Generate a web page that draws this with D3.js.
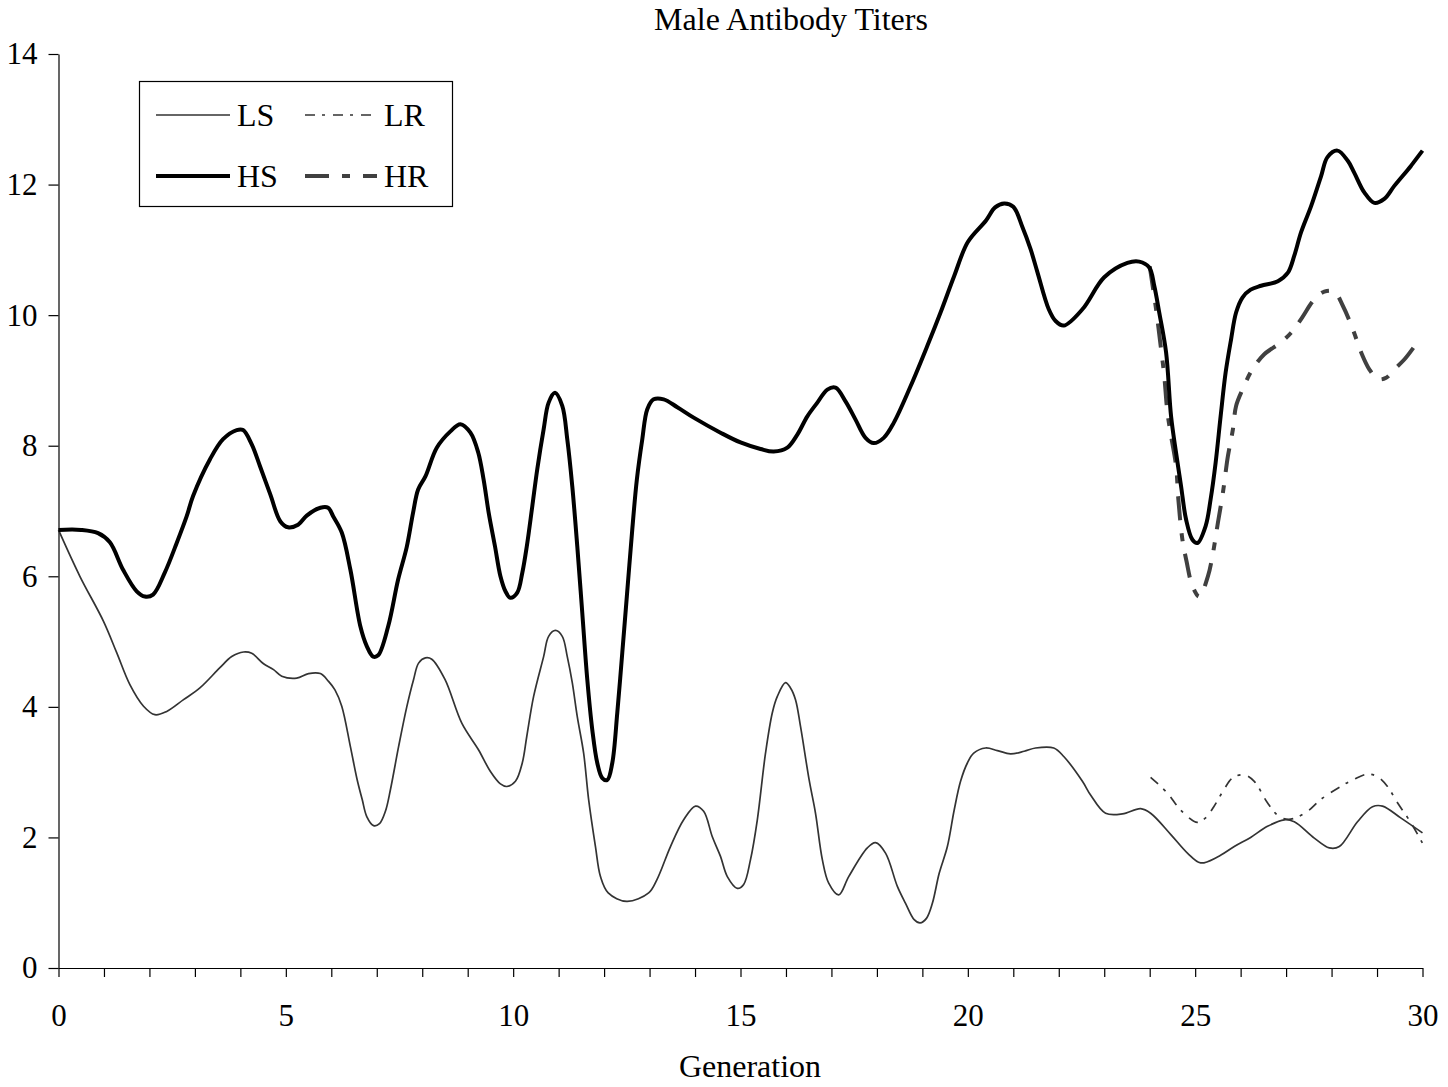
<!DOCTYPE html>
<html>
<head>
<meta charset="utf-8">
<script src="https://cdn.jsdelivr.net/npm/d3@7"></script>
<style>
  html, body { margin: 0; padding: 0; background: #fff; }
  svg { display: block; }
  text { font-family: "Liberation Serif", "Times New Roman", serif; fill: #000; }
</style>
</head>
<body>
<svg id="chart" width="1448" height="1087"></svg>
<script>
const title = "Male Antibody Titers";
const xLabel = "Generation";
const xTickValues = d3.range(0, 31, 1);
const xTickLabels = [0, 5, 10, 15, 20, 25, 30];
const yTickValues = [0, 2, 4, 6, 8, 10, 12, 14];
const seriesNames = ["LS", "LR", "HS", "HR"];

// [generation, titer]
const LS = [[0,6.71],[0.47,6.0],[0.99,5.31],[1.28,4.83],[1.57,4.34],[1.87,4.01],[2.12,3.88],[2.38,3.93],[2.75,4.11],[3.11,4.29],[3.55,4.60],[3.81,4.77],[4.07,4.84],[4.25,4.82],[4.51,4.66],[4.73,4.57],[4.91,4.47],[5.24,4.44],[5.5,4.51],[5.76,4.51],[5.94,4.39],[6.08,4.26],[6.23,4.01],[6.42,3.39],[6.57,2.88],[6.68,2.58],[6.78,2.32],[6.93,2.18],[7.06,2.21],[7.19,2.40],[7.3,2.73],[7.48,3.39],[7.66,4.0],[7.81,4.42],[7.92,4.67],[8.07,4.75],[8.21,4.73],[8.5,4.42],[8.87,3.75],[9.24,3.34],[9.5,3.01],[9.72,2.82],[9.86,2.78],[10.05,2.86],[10.2,3.14],[10.3,3.55],[10.45,4.16],[10.67,4.77],[10.78,5.08],[10.93,5.17],[11.08,5.08],[11.19,4.77],[11.3,4.37],[11.41,3.85],[11.55,3.29],[11.66,2.58],[11.81,1.86],[11.92,1.40],[12.09,1.15],[12.5,1.02],[12.98,1.15],[13.16,1.35],[13.46,1.86],[13.75,2.27],[14.01,2.48],[14.19,2.40],[14.38,2.01],[14.56,1.71],[14.71,1.40],[14.93,1.22],[15.07,1.28],[15.22,1.66],[15.37,2.27],[15.55,3.29],[15.7,3.91],[15.81,4.16],[15.99,4.37],[16.1,4.29],[16.21,4.11],[16.32,3.70],[16.51,2.88],[16.65,2.37],[16.8,1.66],[16.94,1.30],[17.16,1.12],[17.38,1.40],[17.79,1.84],[17.97,1.92],[18.19,1.76],[18.45,1.25],[18.63,0.99],[18.82,0.74],[18.95,0.69],[19.09,0.76],[19.22,0.99],[19.37,1.45],[19.55,1.86],[19.7,2.42],[19.84,2.86],[19.99,3.14],[20.13,3.29],[20.39,3.37],[20.65,3.33],[20.94,3.28],[21.24,3.32],[21.49,3.37],[21.89,3.37],[22.11,3.24],[22.52,2.86],[22.7,2.65],[23.03,2.37],[23.4,2.36],[23.8,2.44],[24.02,2.37],[24.47,2.04],[24.83,1.76],[25.12,1.61],[25.49,1.70],[25.86,1.86],[26.22,2.00],[26.59,2.17],[26.96,2.27],[27.18,2.24],[27.62,1.99],[27.95,1.84],[28.17,1.86],[28.57,2.24],[28.9,2.47],[29.12,2.48],[29.52,2.30],[30,2.07]];

const HS = [[0,6.71],[0.5,6.71],[0.87,6.66],[1.13,6.52],[1.42,6.10],[1.72,5.77],[1.9,5.69],[2.08,5.72],[2.34,6.06],[2.6,6.51],[2.82,6.92],[2.96,7.23],[3.33,7.79],[3.62,8.10],[3.92,8.24],[4.06,8.24],[4.25,8.02],[4.43,7.69],[4.66,7.25],[4.88,6.84],[5.05,6.75],[5.27,6.79],[5.46,6.93],[5.76,7.05],[5.93,7.05],[6.04,6.92],[6.23,6.67],[6.42,6.10],[6.64,5.23],[6.78,4.93],[6.92,4.77],[7.03,4.79],[7.25,5.23],[7.47,5.95],[7.66,6.45],[7.8,6.98],[7.91,7.33],[8.07,7.53],[8.32,7.97],[8.62,8.22],[8.84,8.33],[9.06,8.20],[9.23,7.90],[9.35,7.48],[9.46,6.98],[9.6,6.46],[9.72,6.0],[9.83,5.77],[9.94,5.67],[10.09,5.75],[10.2,6.05],[10.3,6.46],[10.42,7.07],[10.53,7.64],[10.67,8.25],[10.78,8.66],[10.92,8.81],[11.08,8.61],[11.19,8.10],[11.3,7.38],[11.41,6.46],[11.52,5.44],[11.63,4.42],[11.74,3.65],[11.85,3.14],[11.96,2.91],[12.07,2.88],[12.18,3.14],[12.29,3.91],[12.4,4.83],[12.5,5.69],[12.62,6.72],[12.72,7.48],[12.84,8.10],[12.95,8.56],[13.09,8.71],[13.31,8.71],[13.61,8.59],[13.97,8.43],[14.56,8.20],[15.0,8.05],[15.44,7.95],[15.73,7.91],[16.03,7.97],[16.25,8.17],[16.47,8.45],[16.69,8.66],[16.91,8.86],[17.09,8.89],[17.31,8.68],[17.53,8.40],[17.75,8.12],[17.93,8.04],[18.15,8.12],[18.37,8.35],[18.74,8.91],[19.11,9.53],[19.4,10.04],[19.7,10.60],[20.0,11.12],[20.4,11.45],[20.6,11.65],[20.8,11.71],[21.0,11.66],[21.2,11.35],[21.38,11.01],[21.53,10.66],[21.78,10.09],[21.93,9.91],[22.11,9.84],[22.52,10.09],[23.0,10.58],[23.51,10.80],[23.77,10.82],[23.99,10.73],[24.1,10.45],[24.21,10.04],[24.36,9.43],[24.47,8.45],[24.58,7.89],[24.69,7.38],[24.8,6.87],[24.94,6.56],[25.05,6.51],[25.23,6.77],[25.34,7.18],[25.45,7.74],[25.56,8.45],[25.67,9.12],[25.79,9.63],[25.9,10.04],[26.04,10.27],[26.22,10.39],[26.45,10.45],[26.82,10.52],[27.04,10.65],[27.18,10.91],[27.33,11.27],[27.55,11.67],[27.77,12.13],[27.91,12.42],[28.13,12.52],[28.36,12.36],[28.5,12.18],[28.72,11.88],[28.94,11.72],[29.16,11.78],[29.38,11.98],[29.75,12.29],[30,12.52]];

const HR = [[24,10.75],[24.14,10.09],[24.25,9.48],[24.32,9.07],[24.39,8.51],[24.47,8.15],[24.58,7.69],[24.63,7.18],[24.72,6.56],[24.81,6.23],[24.94,5.85],[25.09,5.69],[25.28,6.0],[25.38,6.31],[25.5,6.82],[25.61,7.28],[25.72,7.84],[25.83,8.25],[25.9,8.61],[26.04,8.86],[26.26,9.17],[26.52,9.40],[26.88,9.58],[27.11,9.73],[27.33,9.94],[27.62,10.24],[27.84,10.36],[28.06,10.36],[28.25,10.14],[28.47,9.78],[28.65,9.43],[28.83,9.17],[29.02,9.02],[29.2,9.04],[29.38,9.17],[29.6,9.32],[29.8,9.50]];

const LR = [[24.02,2.92],[24.39,2.68],[24.68,2.42],[25.05,2.23],[25.23,2.30],[25.41,2.47],[25.63,2.73],[25.82,2.91],[26.08,2.96],[26.3,2.86],[26.59,2.53],[26.85,2.32],[27.1,2.28],[27.47,2.40],[27.76,2.58],[28.2,2.78],[28.49,2.89],[28.79,2.97],[29.01,2.93],[29.23,2.78],[29.45,2.53],[29.75,2.22],[30,1.91]];

const svg = d3.select("#chart");
const plot = { left: 58.5, right: 1422.5, top: 54, bottom: 968 };

const x = d3.scaleLinear().domain([0, 30]).range([plot.left, plot.right]);
const y = d3.scaleLinear().domain([0, 14]).range([plot.bottom, plot.top]);

const styles = {
  LS: { stroke: "#333", width: 1.7, dash: null },
  LR: { stroke: "#333", width: 1.7, dash: "10,7,3,8" },
  HS: { stroke: "#000", width: 4, dash: null },
  HR: { stroke: "#404040", width: 4, dash: "24,13,8,13" }
};
const dataBy = { LS, LR, HS, HR };

const line = d3.line()
  .x(d => x(d[0]))
  .y(d => y(d[1]))
  .curve(d3.curveCatmullRom.alpha(0.5));

// Axes
const xAxis = d3.axisBottom(x)
  .tickValues(xTickValues)
  .tickSize(9)
  .tickSizeOuter(0)
  .tickPadding(27)
  .tickFormat(d => xTickLabels.includes(d) ? String(d) : "");
const gx = svg.append("g")
  .attr("transform", `translate(0,${plot.bottom})`)
  .call(xAxis);
gx.selectAll("text").style("font-size", "31px").style("font-family", "'Liberation Serif', serif");
gx.selectAll("line, path").attr("stroke", "#000").attr("stroke-width", 1.2);

const yAxis = d3.axisLeft(y)
  .tickValues(yTickValues)
  .tickSize(10)
  .tickSizeOuter(0)
  .tickPadding(11)
  .tickFormat(d3.format("d"));
const gy = svg.append("g")
  .attr("transform", `translate(${plot.left},0)`)
  .call(yAxis);
gy.selectAll("text").style("font-size", "31px").style("font-family", "'Liberation Serif', serif");
gy.selectAll("line, path").attr("stroke", "#000").attr("stroke-width", 1.2);

// Series (dashed beneath, solid above)
["HR", "LR", "LS", "HS"].forEach(name => {
  const s = styles[name];
  svg.append("path")
    .datum(dataBy[name])
    .attr("fill", "none")
    .attr("stroke", s.stroke)
    .attr("stroke-width", s.width)
    .attr("stroke-linejoin", "round")
    .attr("stroke-dasharray", s.dash)
    .attr("d", line);
});

// Title
svg.append("text")
  .attr("x", 791).attr("y", 30)
  .attr("text-anchor", "middle")
  .style("font-size", "32px")
  .text(title);

// X label
svg.append("text")
  .attr("x", 750).attr("y", 1077)
  .attr("text-anchor", "middle")
  .style("font-size", "32px")
  .text(xLabel);

// Legend
const legend = svg.append("g");
legend.append("rect")
  .attr("x", 139.5).attr("y", 81.5)
  .attr("width", 313).attr("height", 125)
  .attr("fill", "#fff").attr("stroke", "#000").attr("stroke-width", 1.2);

const legendPos = {
  LS: { x0: 156, x1: 230, y: 115, tx: 237 },
  LR: { x0: 305, x1: 377, y: 115, tx: 384 },
  HS: { x0: 156, x1: 230, y: 176, tx: 237 },
  HR: { x0: 305, x1: 377, y: 176, tx: 384 }
};
seriesNames.forEach(name => {
  const p = legendPos[name], s = styles[name];
  legend.append("line")
    .attr("x1", p.x0).attr("x2", p.x1)
    .attr("y1", p.y).attr("y2", p.y)
    .attr("stroke", s.stroke)
    .attr("stroke-width", s.width)
    .attr("stroke-dasharray", s.dash);
  legend.append("text")
    .attr("x", p.tx).attr("y", p.y + 11)
    .style("font-size", "32px")
    .text(name);
});
</script>
</body>
</html>
